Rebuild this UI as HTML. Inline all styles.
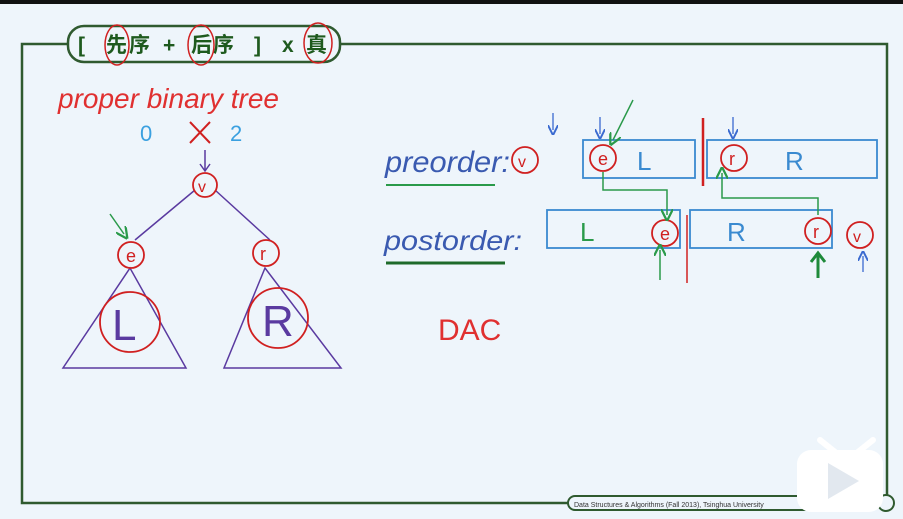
<!DOCTYPE html>
<html><head><meta charset="utf-8"><style>
html,body{margin:0;padding:0;background:#eef5fb;}
svg{display:block;}
text{font-family:"Liberation Sans","Noto Sans CJK SC",sans-serif;}
</style></head><body>
<svg width="903" height="519" viewBox="0 0 903 519" xmlns="http://www.w3.org/2000/svg">
<defs>
<marker id="ag" markerWidth="8" markerHeight="8" refX="4" refY="4" orient="auto"><path d="M0,0 L8,4 L0,8" fill="none" stroke="#2a9a4a" stroke-width="1.5"/></marker>
<marker id="ab" markerWidth="8" markerHeight="8" refX="4" refY="4" orient="auto"><path d="M0,0 L8,4 L0,8" fill="none" stroke="#3a6ad0" stroke-width="1.5"/></marker>
</defs>
<rect x="0" y="0" width="903" height="519" fill="#eef5fb"/>
<rect x="0" y="0" width="903" height="4" fill="#111"/>
<g stroke="#2f5a2f" stroke-width="2.5" fill="none">
<path d="M68,44 H22 V503 H568"/>
<path d="M340,44 H887 V503 H878"/>
<path d="M840,503 H870"/>
<rect x="68" y="26" width="272" height="36" rx="16" fill="#eef5fb"/>
<rect x="568" y="496" width="272" height="14" rx="7" fill="#eef5fb" stroke-width="2"/>
<circle cx="886" cy="503" r="8" fill="#eef5fb" stroke-width="2"/>
</g>
<g font-size="21" font-weight="bold" fill="#1e5a1e">
<text x="78" y="52">[</text>
<text x="106" y="52">先</text>
<text x="129" y="52">序</text>
<text x="163" y="52">+</text>
<text x="191" y="52">后</text>
<text x="213" y="52">序</text>
<text x="254" y="52">]</text>
<text x="282" y="52">x</text>
<text x="306" y="52">真</text>
</g>
<text x="574" y="507" font-size="7" fill="#333" font-family="Liberation Mono">Data Structures &amp; Algorithms (Fall 2013), Tsinghua University</text>
<g stroke="#d02020" stroke-width="1.5" fill="none">
<ellipse cx="117" cy="45" rx="12" ry="20"/>
<ellipse cx="201" cy="45" rx="13" ry="20"/>
<ellipse cx="318" cy="43" rx="14" ry="20"/>
</g>
<text x="58" y="108" font-size="28" fill="#e03030" font-family="Liberation Serif" font-style="italic">proper binary tree</text>
<text x="140" y="141" font-size="22" fill="#3aa0e0">0</text>
<text x="230" y="141" font-size="22" fill="#3aa0e0">2</text>
<path d="M190,122 L210,143 M210,122 L190,143" stroke="#d02020" stroke-width="2"/>
<path d="M205,150 V170 M200,164 L205,171 L210,164" stroke="#5a3aa0" stroke-width="1.5" fill="none"/>
<g stroke="#5a3aa0" stroke-width="1.5" fill="none">
<path d="M195,190 L135,240 M215,190 L270,240"/>
<path d="M130,268 L63,368 H186 Z"/>
<path d="M265,268 L224,368 H341 Z"/>
</g>
<g stroke="#d02020" stroke-width="1.8" fill="none">
<circle cx="205" cy="185" r="12"/>
<circle cx="131" cy="255" r="13"/>
<circle cx="266" cy="253" r="13"/>
<circle cx="130" cy="322" r="30"/>
<circle cx="278" cy="318" r="30"/>
</g>
<text x="198" y="192" font-size="16" fill="#d02020">v</text>
<text x="126" y="262" font-size="18" fill="#d02020">e</text>
<text x="260" y="260" font-size="18" fill="#d02020">r</text>
<text x="112" y="340" font-size="44" fill="#5a3aa0">L</text>
<text x="262" y="336" font-size="44" fill="#5a3aa0">R</text>
<path d="M110,214 L124,234" stroke="#2a9a4a" stroke-width="1.5" marker-end="url(#ag)"/>
<text x="385" y="172" font-size="30" fill="#3a5ab0" font-family="Liberation Serif" font-style="italic" textLength="125" lengthAdjust="spacingAndGlyphs">preorder:</text>
<path d="M386,185 H495" stroke="#2a9a4a" stroke-width="2"/>
<text x="384" y="250" font-size="28" fill="#3a5ab0" font-family="Liberation Serif" font-style="italic" textLength="138" lengthAdjust="spacingAndGlyphs">postorder:</text>
<path d="M386,263 H505" stroke="#1e6a2a" stroke-width="3"/>
<g stroke="#3a8ad0" stroke-width="1.8" fill="none">
<rect x="583" y="140" width="112" height="38"/>
<rect x="707" y="140" width="170" height="38"/>
<rect x="547" y="210" width="133" height="38"/>
<rect x="690" y="210" width="142" height="38"/>
</g>
<path d="M703,118 V186" stroke="#d02020" stroke-width="2.5"/>
<path d="M687,215 V283" stroke="#d02020" stroke-width="1.5"/>
<g stroke="#d02020" stroke-width="1.8" fill="none">
<circle cx="525" cy="160" r="13"/>
<circle cx="603" cy="158" r="13"/>
<circle cx="734" cy="158" r="13"/>
<circle cx="665" cy="233" r="13"/>
<circle cx="818" cy="231" r="13"/>
<circle cx="860" cy="235" r="13"/>
</g>
<text x="518" y="167" font-size="16" fill="#d02020">v</text>
<text x="598" y="165" font-size="18" fill="#d02020">e</text>
<text x="729" y="165" font-size="18" fill="#d02020">r</text>
<text x="660" y="240" font-size="18" fill="#d02020">e</text>
<text x="813" y="238" font-size="18" fill="#d02020">r</text>
<text x="853" y="242" font-size="16" fill="#d02020">v</text>
<text x="637" y="170" font-size="26" fill="#3a8ad0">L</text>
<text x="785" y="170" font-size="26" fill="#3a8ad0">R</text>
<text x="580" y="241" font-size="26" fill="#2a9a4a">L</text>
<text x="727" y="241" font-size="26" fill="#3a8ad0">R</text>
<g stroke="#3a6ad0" stroke-width="1.3" fill="none">
<path d="M553,113 V130" marker-end="url(#ab)"/>
<path d="M600,117 V134" marker-end="url(#ab)"/>
<path d="M733,117 V134" marker-end="url(#ab)"/>
<path d="M863,272 V256" marker-end="url(#ab)"/>
</g>
<g stroke="#2a9a4a" stroke-width="1.5" fill="none">
<path d="M633,100 L613,140" marker-end="url(#ag)"/>
<path d="M603,172 V190 H667 V215" marker-end="url(#ag)"/>
<path d="M818,215 V198 H722 V173" marker-end="url(#ag)"/>
<path d="M660,280 V250" marker-end="url(#ag)"/>
</g>
<path d="M818,278 V254 M811,262 L818,253 L825,262" stroke="#1e8a3a" stroke-width="3" fill="none"/>
<text x="438" y="340" font-size="30" fill="#e03030">DAC</text>
<g>
<path d="M820,440 L835,452 M858,452 L873,440" stroke="#ffffff" stroke-width="6" stroke-linecap="round"/>
<rect x="797" y="450" width="86" height="62" rx="14" fill="#ffffff"/>
<path d="M828,463 L828,499 L859,481 Z" fill="#e2e8ef"/>
</g>
</svg>
</body></html>
